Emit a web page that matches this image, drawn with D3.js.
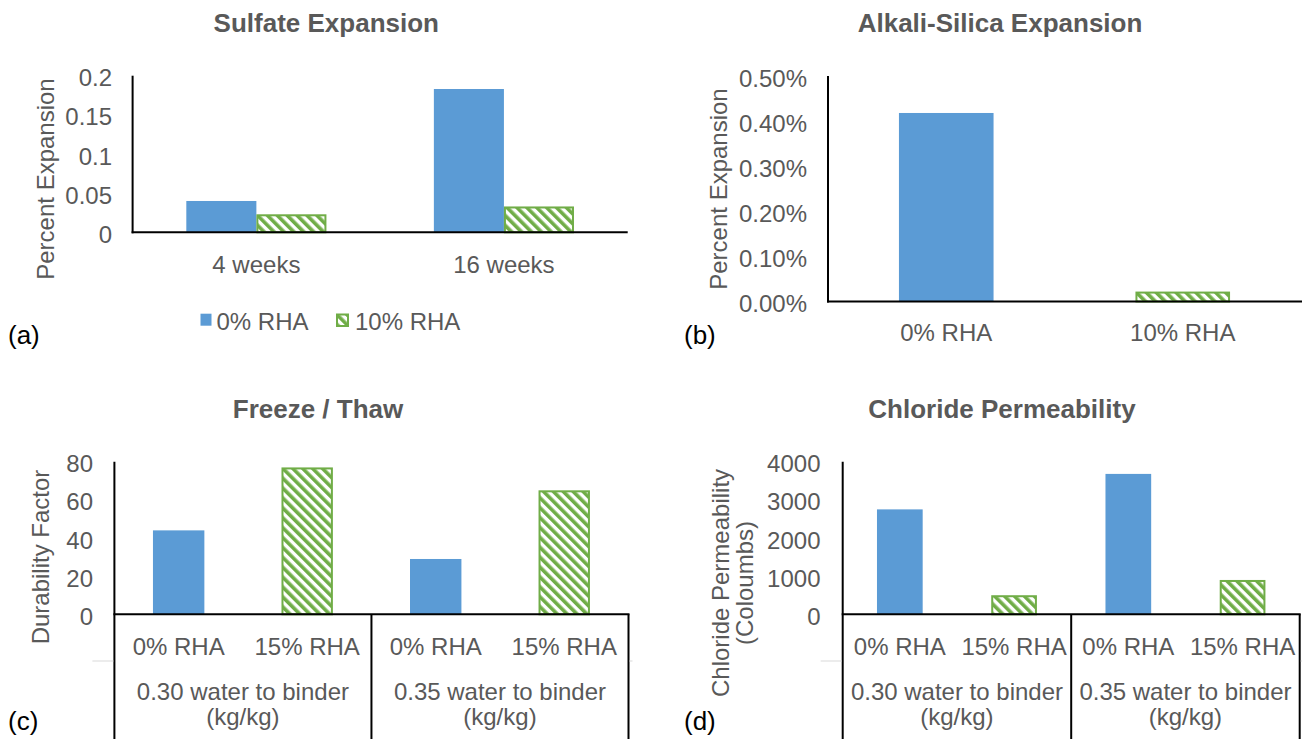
<!DOCTYPE html>
<html>
<head>
<meta charset="utf-8">
<script src="https://cdn.jsdelivr.net/npm/d3@7"></script>
<style>
  html, body { margin: 0; padding: 0; background: #fff; }
  svg { display: block; font-family: "Liberation Sans", Arial, sans-serif; }
</style>
</head>
<body>
<svg id="chart" width="1302" height="739"></svg>
<script>
// ---- data ----
const sulfateCategories = ["4 weeks", "16 weeks"];
const sulfateSeries = ["0% RHA", "10% RHA"];
const sulfate0 = [0.040, 0.183];
const sulfate10 = [0.023, 0.033];
const sulfateTicks = [0, 0.05, 0.1, 0.15, 0.2];

const asrCategories = ["0% RHA", "10% RHA"];
const asrValues = [0.418, 0.022];          // percent expansion
const asrTicks = [0, 0.1, 0.2, 0.3, 0.4, 0.5];

const mixCategories = ["0% RHA", "15% RHA", "0% RHA", "15% RHA"];
const mixGroups = [["0.30 water to binder", "(kg/kg)"], ["0.35 water to binder", "(kg/kg)"]];
const durabilityFactor = [44, 77, 29, 65];
const durabilityTicks = [0, 20, 40, 60, 80];
const chlorideCoulombs = [2750, 500, 3680, 900];
const chlorideTicks = [0, 1000, 2000, 3000, 4000];

// ---- styling ----
const BLUE = "#5B9BD5", GREEN = "#70AD47", TEXT = "#595959";
const svg = d3.select("#chart");

// diagonal hatch used for the RHA series
const defs = svg.append("defs");
const pat = defs.append("pattern")
  .attr("id", "hatch").attr("patternUnits", "userSpaceOnUse")
  .attr("width", 7).attr("height", 7)
  .attr("patternTransform", "rotate(-45)");
pat.append("rect").attr("width", 7).attr("height", 7).attr("fill", "#fff");
pat.append("rect").attr("width", 3.6).attr("height", 7).attr("fill", GREEN);

function text(g, x, y, str, opts = {}) {
  const t = g.append("text")
    .attr("x", x).attr("y", y)
    .attr("fill", opts.fill || TEXT)
    .attr("font-size", opts.size || 24)
    .attr("font-weight", opts.weight || "normal")
    .attr("text-anchor", opts.anchor || "middle")
    .text(str);
  if (opts.rotate) t.attr("transform", `rotate(-90,${x},${y})`);
  return t;
}

function yAxis(g, y, ticks, fmt, x0, labelRight) {
  ticks.forEach(v => text(g, labelRight, y(v) + 10.5, fmt(v), { anchor: "end" }));
}

function hatchBar(g, x, y0, y1, w) {
  g.append("rect")
    .attr("x", x + 1).attr("y", y1 + 1)
    .attr("width", w - 2).attr("height", Math.max(0, y0 - y1 - 1))
    .attr("fill", "url(#hatch)").attr("stroke", GREEN).attr("stroke-width", 2);
}

function line(g, x1, y1, x2, y2, color = "#000", w = 2) {
  g.append("line").attr("x1", x1).attr("y1", y1).attr("x2", x2).attr("y2", y2)
    .attr("stroke", color).attr("stroke-width", w);
}

// ---- (a) Sulfate expansion ----
{
  const g = svg.append("g");
  const x0 = d3.scaleBand().domain(sulfateCategories).range([132.6, 627.7])
    .paddingInner(0.434).paddingOuter(0.217);
  const x1 = d3.scaleBand().domain(sulfateSeries).range([0, x0.bandwidth()]);
  const y = d3.scaleLinear().domain([0, 0.2]).range([232.3, 75.7]);

  sulfateCategories.forEach((c, i) => {
    g.append("rect").attr("x", x0(c) + x1("0% RHA")).attr("y", y(sulfate0[i]))
      .attr("width", x1.bandwidth()).attr("height", y(0) - y(sulfate0[i])).attr("fill", BLUE);
    hatchBar(g, x0(c) + x1("10% RHA"), y(0), y(sulfate10[i]), x1.bandwidth());
    text(g, x0(c) + x0.bandwidth() / 2, 273, c);
  });
  line(g, 132.6, y(0.2), 132.6, y(0) + 1);
  line(g, 131.6, y(0), 627.7, y(0));
  yAxis(g, y, sulfateTicks, d => String(d), 132.6, 112);
  text(g, 53.5, 179, "Percent Expansion", { rotate: true });
  text(g, 326.3, 32, "Sulfate Expansion", { size: 26, weight: "bold" });

  // legend
  g.append("rect").attr("x", 200.5).attr("y", 313.7).attr("width", 11).attr("height", 12).attr("fill", BLUE);
  text(g, 216.5, 330, sulfateSeries[0], { anchor: "start" });
  hatchBar(g, 336, 326, 313.5, 13);
  text(g, 355, 330, sulfateSeries[1], { anchor: "start" });
  text(g, 8, 344, "(a)", { anchor: "start", fill: "#000", size: 26 });
}

// ---- (b) Alkali-silica expansion ----
{
  const g = svg.append("g");
  const x = d3.scaleBand().domain(asrCategories).range([828, 1301])
    .paddingInner(0.6).paddingOuter(0.3);
  const y = d3.scaleLinear().domain([0, 0.5]).range([301.5, 76]);
  g.append("rect").attr("x", x(asrCategories[0])).attr("y", y(asrValues[0]))
    .attr("width", x.bandwidth()).attr("height", y(0) - y(asrValues[0])).attr("fill", BLUE);
  hatchBar(g, x(asrCategories[1]), y(0), y(asrValues[1]), x.bandwidth());
  asrCategories.forEach(c => text(g, x(c) + x.bandwidth() / 2, 341, c));
  line(g, 828, y(0.5), 828, y(0) + 1);
  line(g, 827, y(0), 1302, y(0));
  yAxis(g, y, asrTicks, d => d.toFixed(2) + "%", 828, 807);
  text(g, 727, 189, "Percent Expansion", { rotate: true });
  text(g, 1000, 32, "Alkali-Silica Expansion", { size: 26, weight: "bold" });
  text(g, 684, 344, "(b)", { anchor: "start", fill: "#000", size: 26 });
}

// ---- shared drawing for the two mix-design panels ----
function mixPanel(opts) {
  const g = svg.append("g");
  const keys = mixCategories.map((c, i) => i);
  const x = d3.scaleBand().domain(keys).range([opts.x0, opts.x1])
    .paddingInner(0.6).paddingOuter(0.3);
  const y = d3.scaleLinear().domain(opts.domain).range([614.3, 461.7]);
  keys.forEach(i => {
    const v = opts.values[i];
    if (i % 2 === 0) {
      g.append("rect").attr("x", x(i)).attr("y", y(v)).attr("width", x.bandwidth())
        .attr("height", y(0) - y(v)).attr("fill", BLUE);
    } else {
      hatchBar(g, x(i), y(0), y(v), x.bandwidth());
    }
    text(g, x(i) + x.bandwidth() / 2, 655, mixCategories[i]);
  });
  const step = x.step();
  // category table lines
  const bounds = [opts.x0, opts.x0 + 2 * step, opts.x1];
  line(g, opts.x0, y(opts.domain[1]), opts.x0, 739);
  line(g, opts.x0 - 1, y(0), opts.x1 + 1, y(0));
  bounds.slice(1).forEach(b => line(g, b, y(0), b, 739));
  line(g, opts.x0 - 22, 661, opts.x0 - 1, 661, "#d9d9d9", 1);
  line(g, opts.x1 + 1, 661, opts.x1 + 4, 661, "#d9d9d9", 1);
  mixGroups.forEach((lines, gi) => {
    const cx = opts.x0 + step * (2 * gi + 1);
    text(g, cx, 700, lines[0]);
    text(g, cx, 725, lines[1]);
  });
  yAxis(g, y, opts.ticks, d => String(d), opts.x0, opts.labelRight);
  return { g, y };
}

// ---- (c) Freeze / thaw ----
{
  const { g } = mixPanel({ x0: 114.4, x1: 628.5, domain: [0, 80], values: durabilityFactor,
    ticks: durabilityTicks, labelRight: 93 });
  text(g, 49, 557, "Durability Factor", { rotate: true });
  text(g, 318, 418, "Freeze / Thaw", { size: 26, weight: "bold" });
  text(g, 8, 730, "(c)", { anchor: "start", fill: "#000", size: 26 });
}

// ---- (d) Chloride permeability ----
{
  const { g } = mixPanel({ x0: 842.7, x1: 1299.7, domain: [0, 4000], values: chlorideCoulombs,
    ticks: chlorideTicks, labelRight: 820.5 });
  text(g, 728.5, 583, "Chloride Permeability", { rotate: true });
  text(g, 752.5, 583, "(Coloumbs)", { rotate: true });
  text(g, 1002, 418, "Chloride Permeability", { size: 26, weight: "bold" });
  text(g, 684, 730, "(d)", { anchor: "start", fill: "#000", size: 26 });
}
</script>
</body>
</html>
